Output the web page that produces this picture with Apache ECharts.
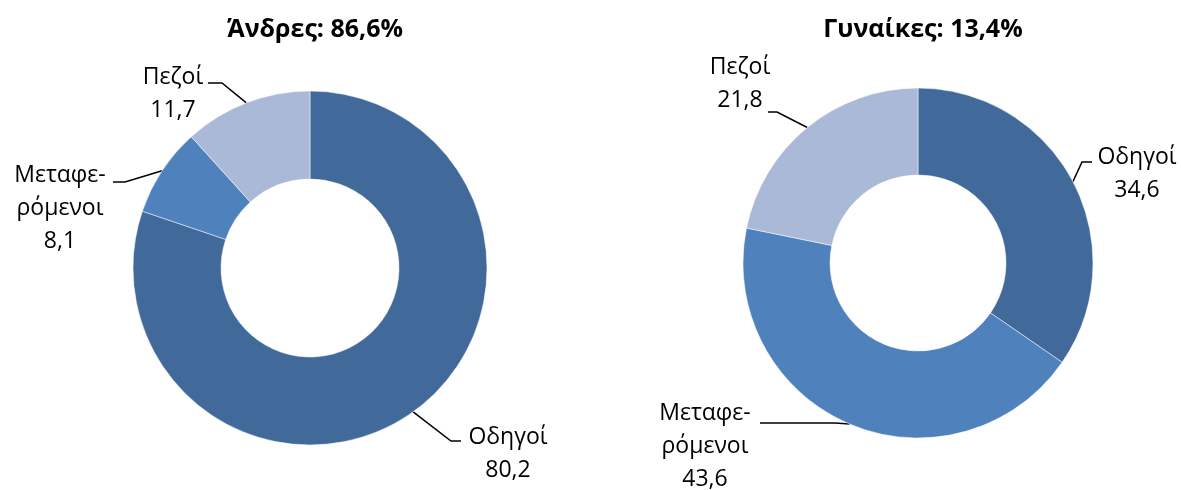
<!DOCTYPE html>
<html><head><meta charset="utf-8">
<script src="https://cdn.jsdelivr.net/npm/echarts@6/dist/echarts.min.js"></script>
<style>html,body{margin:0;padding:0;background:#fff}#c{width:1181px;height:490px}</style>
</head><body><div id="c"></div>
<script>
const categories = ['Οδηγοί', 'Μεταφερόμενοι', 'Πεζοί'];
const labelNames = ['Οδηγοί', 'Μεταφε-\nρόμενοι', 'Πεζοί'];
const menValues = [80.2, 8.1, 11.7];
const womenValues = [34.6, 43.6, 21.8];
const titles = ['Άνδρες: 86,6%', 'Γυναίκες: 13,4%'];
const colors = ['#416A9B', '#4F81BD', '#AAB9D7'];

const FONT = '"Open Sans", "Noto Sans", sans-serif';
const fmt = v => v.toFixed(1).replace('.', ',');

// label layout (positions only): label centre, line elbow, line end
const menLayout = [
  { c: [508, 454], elbow: [451, 441], end: [461, 441] },
  { c: [60, 208], elbow: [125, 182], end: [113, 182] },
  { c: [173, 94], elbow: [222, 83], end: [208, 83] }
];
const womenLayout = [
  { c: [1137, 174], elbow: [1082, 162], end: [1092, 162] },
  { c: [705, 446], elbow: [835, 423], end: [760, 423] },
  { c: [740, 84], elbow: [777, 112], end: [768, 112] }
];

function mkSeries(values, center, radius, lay) {
  return {
    type: 'pie',
    center: center,
    radius: radius,
    startAngle: 90,
    clockwise: true,
    avoidLabelOverlap: false,
    animation: false,
    itemStyle: { borderColor: '#fff', borderWidth: 0.5 },
    label: {
      show: true,
      formatter: p => labelNames[p.dataIndex] + '\n' + fmt(p.value),
      color: '#000',
      fontFamily: FONT,
      fontSize: 23,
      lineHeight: 33,
      align: 'center'
    },
    labelLine: { show: true, lineStyle: { color: '#000', width: 1.5 }, length: 15, length2: 10 },
    labelLayout: function (p) {
      const q = lay[p.dataIndex];
      const start = p.labelLinePoints ? p.labelLinePoints[0] : null;
      const o = { x: q.c[0], y: q.c[1], align: 'center', verticalAlign: 'middle' };
      if (start) o.labelLinePoints = [start, q.elbow, q.end];
      return o;
    },
    emphasis: { disabled: true },
    data: values.map((v, i) => ({ name: categories[i], value: v, itemStyle: { color: colors[i] } }))
  };
}

const chart = echarts.init(document.getElementById('c'), null, { renderer: 'canvas' });
chart.setOption({
  backgroundColor: '#fff',
  title: [
    { text: titles[0], left: 310, top: 12, textAlign: 'center', textStyle: { fontFamily: FONT, fontSize: 25, fontWeight: 'bold', color: '#000' } },
    { text: titles[1], left: 918, top: 12, textAlign: 'center', textStyle: { fontFamily: FONT, fontSize: 25, fontWeight: 'bold', color: '#000' } }
  ],
  series: [
    mkSeries(menValues, [310, 268], [89, 177], menLayout),
    mkSeries(womenValues, [918, 263], [88, 175], womenLayout)
  ]
});
</script></body></html>
